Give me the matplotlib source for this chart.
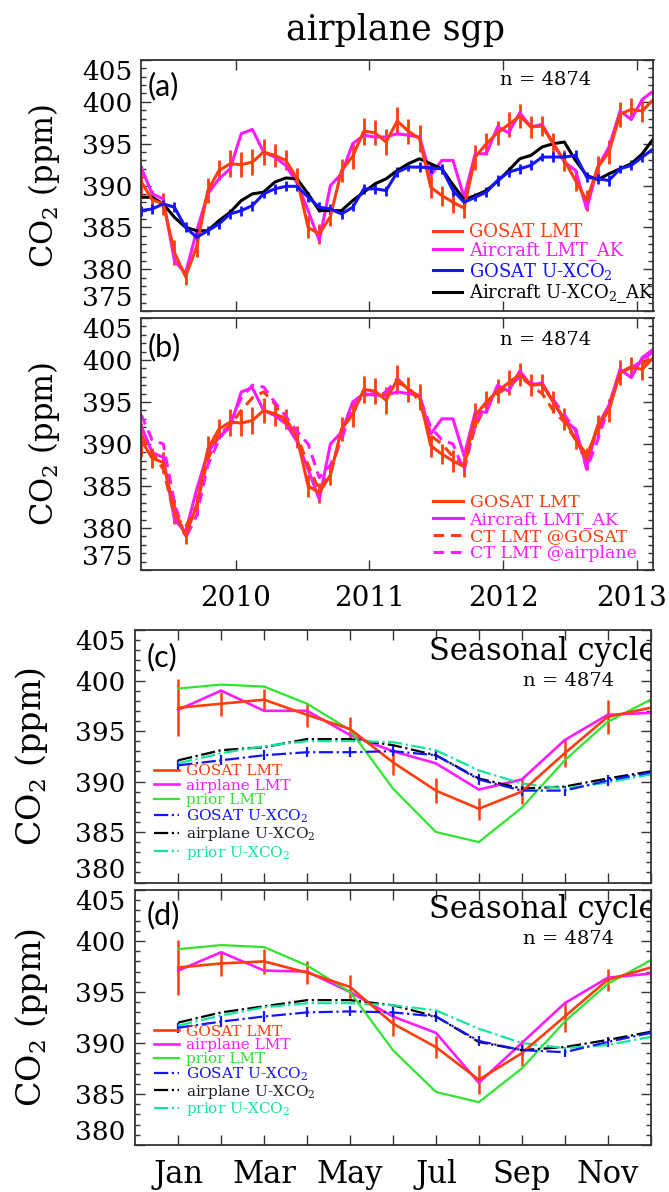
import matplotlib
matplotlib.use('Agg')
import matplotlib.pyplot as plt
import matplotlib.transforms as mtransforms
import numpy as np
import pandas as pd
from matplotlib.ticker import MultipleLocator, FixedLocator

plt.rcParams['font.family'] = ['DejaVu Serif']
plt.rcParams['mathtext.fontset'] = 'dejavuserif'

# ---------------- data: monthly time series (Apr 2009 - Feb 2013) ----------------
start_month = '2009-04-01'
n_months = 47

gosat_lmt = [390.5, 388.3, 387.8, 382.0, 379.1, 382.7, 389.4, 391.8, 392.6, 392.5,
             392.8, 394.0, 393.6, 393.0, 390.8, 385.0, 384.2, 386.3, 391.8, 393.5,
             396.5, 396.3, 395.2, 397.7, 396.5, 395.6, 389.8, 388.8, 388.0, 387.3,
             393.4, 395.0, 396.3, 397.3, 398.3, 397.0, 397.1, 395.0, 393.0, 390.6,
             388.2, 392.2, 394.0, 398.5, 399.1, 398.9, 400.3]
gosat_lmt_err = [2.0, 1.2, 1.3, 1.5, 1.0, 1.3, 1.5, 1.2, 1.6, 1.5,
                 1.6, 1.5, 1.4, 1.2, 1.3, 1.3, 1.2, 1.2, 1.4, 1.5,
                 1.6, 1.5, 1.6, 1.7, 1.5, 1.6, 1.3, 1.2, 1.3, 1.2,
                 1.5, 1.3, 1.4, 1.5, 1.4, 1.3, 1.2, 1.3, 1.3, 1.2,
                 1.3, 1.3, 1.4, 1.5, 1.3, 1.3, 1.5]
aircraft_lmt_ak = [392.2, 389.0, 388.4, 381.0, 379.5, 384.6, 389.0, 390.8, 392.0, 396.2,
                   396.7, 394.0, 393.4, 392.4, 390.3, 387.0, 383.4, 390.0, 391.4, 395.0,
                   396.0, 395.8, 395.8, 396.2, 396.0, 395.8, 391.2, 393.0, 393.0, 388.6,
                   393.8, 393.8, 397.0, 396.3, 398.7, 397.0, 397.3, 395.0, 392.8, 391.8,
                   387.2, 392.2, 394.6, 398.9, 397.9, 400.3, 401.3]
gosat_uxco2 = [387.0, 387.2, 387.8, 387.4, 385.0, 383.8, 384.6, 385.4, 386.6, 387.0,
               387.6, 389.0, 389.6, 389.9, 389.9, 388.6, 387.4, 387.2, 386.6, 387.4,
               389.6, 389.6, 389.4, 391.6, 392.2, 392.2, 392.1, 392.0, 389.4, 388.0,
               388.6, 389.2, 390.6, 391.6, 392.0, 392.4, 393.4, 393.4, 393.4, 393.6,
               391.0, 390.8, 390.6, 392.0, 392.4, 393.4, 394.4]
gosat_uxco2_err = [0.6, 0.6, 0.5, 0.6, 0.6, 0.6, 0.5, 0.6, 0.6, 0.6,
                   0.6, 0.5, 0.6, 0.6, 0.5, 0.6, 0.6, 0.6, 0.6, 0.5,
                   0.6, 0.6, 0.6, 0.6, 0.5, 0.6, 0.6, 0.6, 0.6, 0.6,
                   0.5, 0.6, 0.6, 0.6, 0.6, 0.6, 0.5, 0.6, 0.6, 0.6,
                   0.6, 0.6, 0.6, 0.5, 0.6, 0.6, 0.6]
aircraft_uxco2_ak = [388.6, 388.6, 387.8, 386.2, 385.0, 384.6, 384.6, 385.8, 386.8, 388.2,
                     389.0, 389.2, 390.4, 390.9, 390.8, 389.0, 387.0, 387.0, 387.0, 388.2,
                     389.2, 390.2, 390.8, 391.8, 392.6, 393.2, 392.6, 392.0, 390.1, 388.3,
                     388.8, 389.4, 390.5, 391.8, 393.2, 393.6, 394.6, 395.0, 395.2, 393.0,
                     391.2, 390.7, 391.4, 392.0, 392.6, 393.8, 395.6]
ct_lmt_gosat = [391.0, 389.0, 387.0, 381.5, 380.1, 382.7, 388.2, 391.2, 392.2, 394.0,
                395.5, 396.2, 394.8, 392.5, 391.0, 387.5, 384.5, 386.5, 391.0, 394.5,
                395.8, 396.0, 396.0, 397.3, 396.8, 395.0, 391.0, 390.0, 388.5, 387.5,
                392.0, 394.8, 396.0, 396.8, 398.0, 397.0, 396.0, 394.0, 392.6, 390.5,
                388.8, 391.5, 394.5, 398.5, 399.2, 399.5, 400.5]
ct_lmt_airplane = [393.5, 390.5, 390.0, 383.0, 378.8, 381.5, 387.5, 390.5, 392.5, 395.5,
                   397.0, 396.8, 395.0, 393.3, 391.5, 390.0, 386.0, 387.5, 390.5, 394.5,
                   395.8, 396.0, 396.2, 397.8, 396.5, 395.6, 392.0, 390.5, 390.0, 386.8,
                   392.5, 395.0, 396.2, 397.3, 398.0, 397.2, 397.0, 395.3, 393.5, 391.6,
                   387.0, 390.5, 394.5, 398.5, 399.0, 400.0, 401.0]

year_ticks = [2010, 2011, 2012, 2013]
co2_ticks_ab = [375, 380, 385, 390, 395, 400, 405]

# ---------------- data: seasonal cycles ----------------
month_num = list(range(1, 13))
month_labels = ['Jan', '', 'Mar', '', 'May', '', 'Jul', '', 'Sep', '', 'Nov', '']
co2_ticks_cd = [380, 385, 390, 395, 400, 405]

c_gosat_lmt = [397.3, 397.7, 398.1, 396.6, 395.2, 391.9, 389.1, 387.3, 389.0, 392.8, 396.4, 397.3]
c_gosat_lmt_err = [2.8, 1.2, 1.1, 1.2, 1.2, 1.3, 1.2, 1.1, 1.2, 1.4, 1.7, 1.6]
c_airplane_lmt = [397.1, 399.0, 397.0, 397.0, 394.6, 393.0, 391.8, 389.2, 390.2, 394.1, 396.6, 396.8]
c_prior_lmt = [399.2, 399.6, 399.4, 397.7, 395.1, 389.3, 385.0, 384.0, 387.4, 392.1, 395.9, 398.1]
c_gosat_uxco2 = [391.6, 392.1, 392.6, 392.9, 392.9, 393.0, 392.6, 390.2, 389.1, 389.1, 390.1, 390.9]
c_gosat_uxco2_err = [0.5, 0.5, 0.5, 0.5, 0.5, 0.5, 0.5, 0.5, 0.5, 0.5, 0.5, 0.5]
c_airplane_uxco2 = [392.1, 393.1, 393.4, 394.2, 394.2, 393.6, 392.6, 390.3, 389.3, 389.5, 390.3, 391.0]
c_prior_uxco2 = [391.8, 392.8, 393.5, 394.0, 394.0, 393.9, 393.1, 391.1, 389.8, 389.3, 389.9, 390.7]

d_gosat_lmt = [397.4, 397.8, 398.0, 396.9, 395.5, 391.9, 389.6, 386.4, 389.0, 392.6, 396.2, 397.4]
d_gosat_lmt_err = [2.7, 1.2, 1.2, 1.1, 1.2, 1.2, 1.1, 1.4, 1.3, 1.5, 1.1, 1.1]
d_airplane_lmt = [397.1, 398.9, 397.1, 397.0, 395.0, 392.6, 391.0, 386.1, 390.0, 393.9, 396.4, 396.8]
d_prior_lmt = [399.2, 399.6, 399.4, 397.6, 395.0, 389.3, 385.2, 384.2, 387.5, 392.1, 395.8, 398.1]
d_gosat_uxco2 = [391.5, 392.1, 392.6, 393.0, 393.1, 393.0, 392.6, 390.2, 389.3, 389.1, 390.1, 391.0]
d_gosat_uxco2_err = [0.5, 0.5, 0.5, 0.5, 0.5, 0.5, 0.5, 0.5, 0.5, 0.5, 0.5, 0.5]
d_airplane_uxco2 = [392.0, 393.0, 393.6, 394.2, 394.2, 393.7, 392.6, 390.1, 389.3, 389.6, 390.3, 391.1]
d_prior_uxco2 = [391.7, 392.7, 393.5, 393.9, 393.9, 393.7, 393.2, 391.4, 390.0, 389.5, 389.8, 390.6]

# ---------------- styles ----------------
RED = '#ff3d0d'
MAG = '#ff1aff'
BLUE = '#1414ff'
BLACK = '#000000'
GREEN = '#2ee62e'
CYAN = '#14e59a'
SPINE = '#333333'

dates = pd.date_range(start_month, periods=n_months, freq='MS')
t = np.asarray(dates.year + (dates.month - 0.5) / 12.0)

fig = plt.figure(figsize=(6.69, 11.92), dpi=100)
W, H = 669.0, 1192.0


def rect(l, r, top, bot):
    return [l / W, 1 - bot / H, (r - l) / W, (bot - top) / H]


axa = fig.add_axes(rect(141, 653.5, 60, 311))
axb = fig.add_axes(rect(141, 653.5, 318, 570))
axc = fig.add_axes(rect(135.3, 650.6, 630, 882.5))
axd = fig.add_axes(rect(135.3, 650.6, 890, 1145))


def style_axes(ax, yticks):
    for s in ax.spines.values():
        s.set_linewidth(1.3)
        s.set_color(SPINE)
    ax.yaxis.set_major_locator(FixedLocator(yticks))
    ax.yaxis.set_minor_locator(MultipleLocator(1))
    ax.tick_params(which='both', direction='in', top=True, right=True, color=SPINE, width=1.0)
    ax.tick_params(which='major', length=7)
    ax.tick_params(which='minor', length=3.5)
    ax.tick_params(axis='y', labelsize=19, pad=6)
    ax.tick_params(axis='x', which='minor', top=False, bottom=False)
    ax.figure.canvas.draw()
    mt = ax.yaxis.get_major_ticks()
    mt[0].label1.set_verticalalignment('bottom')
    mt[-1].label1.set_verticalalignment('top')


# ---------------- panel (a) ----------------
for ax in (axa, axb):
    ax.set_xlim(t[0], t[-1])
    ax.set_ylim(375, 405)
    ax.set_xticks(year_ticks)

ea = axa.errorbar(t, gosat_lmt, yerr=gosat_lmt_err, color=RED, lw=2.2, elinewidth=2.0, capsize=0)
la2, = axa.plot(t, aircraft_lmt_ak, color=MAG, lw=2.2)
eb = axa.errorbar(t, gosat_uxco2, yerr=gosat_uxco2_err, color=BLUE, lw=2.2, elinewidth=2.0, capsize=0)
la4, = axa.plot(t, aircraft_uxco2_ak, color=BLACK, lw=2.2)
axa.tick_params(axis='x', labelbottom=False)
style_axes(axa, co2_ticks_ab)
axa.set_ylabel('CO$_2$ (ppm)', fontsize=22, va='center')
axa.yaxis.set_label_coords(-0.189, 0.5)
axa.text(0.012, 0.896, '(a)', transform=axa.transAxes, fontsize=22, family=['Lato', 'DejaVu Sans'],
         ha='left', va='center')
axa.text(0.79, 0.92, 'n = 4874', transform=axa.transAxes, fontsize=14, ha='center', va='center')
lega = axa.legend([ea[0], la2, eb[0], la4],
                  ['GOSAT LMT', 'Aircraft LMT_AK', 'GOSAT U-XCO$_2$', 'Aircraft U-XCO$_2$_AK'],
                  loc='upper left', bbox_to_anchor=(0.570, 0.351), frameon=False, fontsize=13,
                  handlelength=1.6, handletextpad=0.4, labelspacing=0.02, borderpad=0,
                  borderaxespad=0, labelcolor=[RED, MAG, BLUE, BLACK])
for txt in lega.get_texts():
    txt.set_clip_on(True)
    txt.set_clip_box(axa.bbox)

# ---------------- panel (b) ----------------
eb1 = axb.errorbar(t, gosat_lmt, yerr=gosat_lmt_err, color=RED, lw=2.2, elinewidth=2.0, capsize=0)
lb2, = axb.plot(t, aircraft_lmt_ak, color=MAG, lw=2.2)
lb3, = axb.plot(t, ct_lmt_gosat, color=RED, lw=2.2, ls=(0, (3.5, 2.2)))
lb4, = axb.plot(t, ct_lmt_airplane, color=MAG, lw=2.2, ls=(0, (3.5, 2.2)))
axb.set_xticklabels([str(y) for y in year_ticks])
axb.tick_params(axis='x', labelsize=20, pad=11)
style_axes(axb, co2_ticks_ab)
last_lbl = axb.xaxis.get_major_ticks()[-1].label1
last_lbl.set_transform(last_lbl.get_transform() +
                       mtransforms.ScaledTranslation(-5 / 100.0, 0, fig.dpi_scale_trans))
axb.set_ylabel('CO$_2$ (ppm)', fontsize=22, va='center')
axb.yaxis.set_label_coords(-0.189, 0.5)
axb.text(0.012, 0.885, '(b)', transform=axb.transAxes, fontsize=22, family=['Lato', 'DejaVu Sans'],
         ha='left', va='center')
axb.text(0.79, 0.913, 'n = 4874', transform=axb.transAxes, fontsize=14, ha='center', va='center')
legb = axb.legend([eb1[0], lb2, lb3, lb4],
                  ['GOSAT LMT', 'Aircraft LMT_AK', 'CT LMT @GOSAT', 'CT LMT @airplane'],
                  loc='upper left', bbox_to_anchor=(0.570, 0.30), frameon=False, fontsize=12.5,
                  handlelength=1.7, handletextpad=0.4, labelspacing=0.0, borderpad=0,
                  borderaxespad=0, labelcolor=[RED, MAG, RED, MAG])
for txt in legb.get_texts():
    txt.set_clip_on(True)
    txt.set_clip_box(axb.bbox)


# ---------------- panels (c), (d) ----------------
def seasonal(ax, lmt, lmt_err, air, prior, g_u, g_u_err, a_u, p_u, label, lab_y, leg_top, lspace,
             show_labels):
    ax.set_xlim(0, 12)
    ax.set_ylim(380, 405)
    e1 = ax.errorbar(month_num, lmt, yerr=lmt_err, color=RED, lw=1.9, elinewidth=1.8, capsize=0)
    l2, = ax.plot(month_num, air, color=MAG, lw=1.9)
    l3, = ax.plot(month_num, prior, color=GREEN, lw=1.6)
    e4 = ax.errorbar(month_num, g_u, yerr=g_u_err, color=BLUE, lw=1.6, elinewidth=1.6, capsize=0,
                     ls='-.')
    l5, = ax.plot(month_num, a_u, color=BLACK, lw=1.6, ls='-.')
    l6, = ax.plot(month_num, p_u, color=CYAN, lw=1.6, ls='-.')
    ax.set_xticks(month_num)
    if show_labels:
        ax.set_xticklabels(month_labels)
        ax.tick_params(axis='x', labelsize=22, pad=10)
    else:
        ax.tick_params(axis='x', labelbottom=False)
    ax.tick_params(axis='x', length=7)
    style_axes(ax, co2_ticks_cd)
    ax.tick_params(axis='y', pad=7)
    ax.set_ylabel('CO$_2$ (ppm)', fontsize=24, va='center')
    ax.yaxis.set_label_coords(-0.2024, 0.5)
    ax.text(0.0227, lab_y, label, transform=ax.transAxes, fontsize=22,
            family=['Lato', 'DejaVu Sans'], ha='left', va='center')
    ax.text(1.012, lab_y + 0.02, 'Seasonal cycle', transform=ax.transAxes, fontsize=22,
            ha='right', va='center', clip_on=True)
    ax.text(0.84, lab_y - 0.095, 'n = 4874', transform=ax.transAxes, fontsize=14,
            ha='center', va='center')
    leg = ax.legend([e1[0], l2, l3, e4[0], l5, l6],
                    ['GOSAT LMT', 'airplane LMT', 'prior LMT', 'GOSAT U-XCO$_2$',
                     'airplane U-XCO$_2$', 'prior U-XCO$_2$'],
                    loc='upper left', bbox_to_anchor=(0.0363, leg_top), frameon=False, fontsize=11,
                    handlelength=1.65, handletextpad=0.45, labelspacing=lspace, borderpad=0,
                    borderaxespad=0, labelcolor=[RED, MAG, GREEN, BLUE, '#222222', CYAN])
    return leg


seasonal(axc, c_gosat_lmt, c_gosat_lmt_err, c_airplane_lmt, c_prior_lmt, c_gosat_uxco2,
         c_gosat_uxco2_err, c_airplane_uxco2, c_prior_uxco2, '(c)', 0.893, 0.469, 0.03, False)
seasonal(axd, d_gosat_lmt, d_gosat_lmt_err, d_airplane_lmt, d_prior_lmt, d_gosat_uxco2,
         d_gosat_uxco2_err, d_airplane_uxco2, d_prior_uxco2, '(d)', 0.902, 0.4725, -0.02, True)

fig.text(395 / W, 1 - 30 / H, 'airplane sgp', fontsize=25, ha='center', va='center')

fig.savefig('out.png', dpi=100)
